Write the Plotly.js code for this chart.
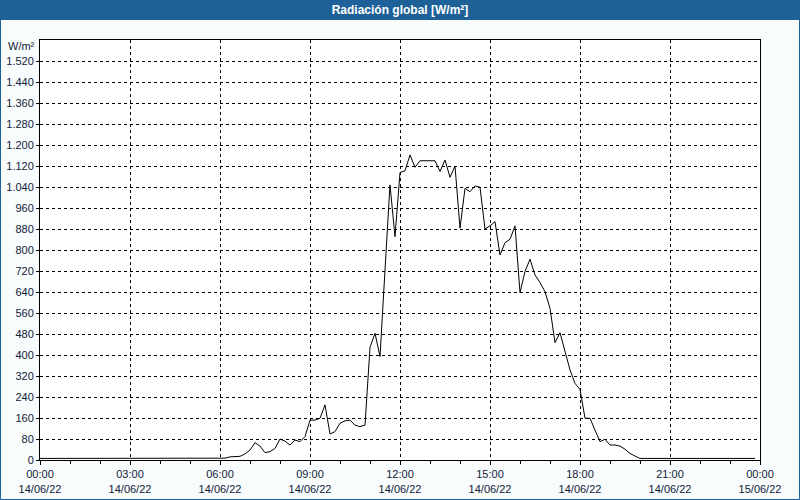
<!DOCTYPE html>
<html>
<head>
<meta charset="utf-8">
<script src="https://cdn.plot.ly/plotly-3.0.1.min.js"></script>
<style>html,body{margin:0;padding:0;background:#f8fcfc;}#chart{width:800px;height:500px;}</style>
</head>
<body>
<div id="chart"></div>
<script>
// Chart texts
const chartTitle = "Radiación global [W/m²]";
const unitLabel = "W/m²";

// Sampling: one reading every 10 minutes, starting at midnight
const startTime = "2022-06-14T00:00:00";
const stepMinutes = 10;

// Global radiation readings (W/m²), 144 samples 00:00 .. 23:50
const radiation = [
  6,6,6,6,6,6, 6,6,6,6,6,6,            // 00:00-01:50
  6,6,6,6,6,6, 6,6,6,6,6,6,            // 02:00-03:50
  6,6,6,6,6,6, 6,6,6,6,6,6,            // 04:00-05:50
  6,7,12,13,14,23, 38,66,53,28,32,44,  // 06:00-07:50
  80,72,57,76,70,89, 152,152,159,210,99,108,   // 08:00-09:50
  140,149,152,133,127,133, 429,483,394,724,1048,851, // 10:00-11:50
  1095,1102,1162,1115,1140,1140, 1140,1140,1099,1143,1077,1120, // 12:00-13:50
  883,1035,1022,1044,1039,880, 892,908,781,828,841,892,  // 14:00-15:50
  638,718,765,705,676,641, 578,447,485,413,343,292,      // 16:00-17:50
  269,159,159,114,70,79, 57,57,53,41,25,15,              // 18:00-19:50
  6,6,6,6,6,6, 6,6,6,6,6,6,            // 20:00-21:50
  6,6,6,6,6,6, 6,6,6,6,6,6             // 22:00-23:50
];

// Axis ticks
const xTickVals = ["2022-06-14 00:00","2022-06-14 03:00","2022-06-14 06:00","2022-06-14 09:00",
  "2022-06-14 12:00","2022-06-14 15:00","2022-06-14 18:00","2022-06-14 21:00","2022-06-15 00:00"];
const xTickText = ["00:00<br>14/06/22","03:00<br>14/06/22","06:00<br>14/06/22","09:00<br>14/06/22",
  "12:00<br>14/06/22","15:00<br>14/06/22","18:00<br>14/06/22","21:00<br>14/06/22","00:00<br>15/06/22"];
const yTickVals = [0,80,160,240,320,400,480,560,640,720,800,880,960,1040,1120,1200,1280,1360,1440,1520];
const yRange = [0, 1600];

// Build timestamps for samples
function pad(n){return String(n).padStart(2,"0");}
const t0 = new Date(startTime + "Z").getTime();
const times = radiation.map((_, i) => {
  const d = new Date(t0 + i * stepMinutes * 60000);
  return d.getUTCFullYear() + "-" + pad(d.getUTCMonth()+1) + "-" + pad(d.getUTCDate()) + " " +
         pad(d.getUTCHours()) + ":" + pad(d.getUTCMinutes());
});

const textColor = "#10203a";
const font = {family: "Liberation Sans, Arial, sans-serif", size: 11, color: textColor};

const trace = {
  x: times, y: radiation, type: "scatter", mode: "lines",
  line: {color: "#000000", width: 1}, hoverinfo: "x+y"
};

// plot area: x 40..760, y 40..460 in pixels
const L = 40, R = 40, T = 40, B = 40, W = 800, H = 500;
const pw = W - L - R, ph = H - T - B;
const px = v => (v - L) / pw;
const py = v => (H - B - v) / ph;

const layout = {
  width: W, height: H,
  margin: {l: L, r: R, t: T, b: B, pad: 0},
  paper_bgcolor: "#f8fcfc",
  plot_bgcolor: "#ffffff",
  font: font,
  separators: ",.",
  showlegend: false,
  title: {
    text: "<b>" + chartTitle + "</b>",
    x: 0.5, xref: "container", xanchor: "center",
    y: 1 - 10/H, yref: "container", yanchor: "middle",
    font: {family: "Liberation Sans, Arial, sans-serif", size: 12, color: "#ffffff"}
  },
  xaxis: {
    type: "date",
    range: [xTickVals[0], xTickVals[xTickVals.length-1]],
    tickmode: "array", tickvals: xTickVals, ticktext: xTickText,
    ticks: "outside", ticklen: 4, tickcolor: "#000", tickwidth: 1,
    showline: true, linecolor: "#000", linewidth: 1, mirror: true,
    showgrid: true, gridcolor: "#000", gridwidth: 1, griddash: "3px,3px",
    zeroline: false, tickangle: 0,
    minor: {dtick: 3600000, ticks: "outside", ticklen: 3, tickcolor: "#000", showgrid: false},
    tickfont: font, fixedrange: true
  },
  yaxis: {
    range: yRange,
    tickmode: "array", tickvals: yTickVals,
    tickformat: ",d", separatethousands: true,
    ticks: "outside", ticklen: 3, tickcolor: "#000", tickwidth: 1,
    showline: true, linecolor: "#000", linewidth: 1, mirror: true,
    showgrid: true, gridcolor: "#000", gridwidth: 1, griddash: "3px,3px",
    zeroline: false,
    tickfont: font, fixedrange: true
  },
  shapes: [
    {type: "rect", xref: "paper", yref: "paper", layer: "below",
     x0: px(0), x1: px(W), y0: py(20), y1: py(0),
     fillcolor: "#1d6198", line: {width: 0}},
    {type: "rect", xref: "paper", yref: "paper", layer: "above",
     x0: px(0.5), x1: px(W-0.5), y0: py(H-0.5), y1: py(0.5),
     fillcolor: "rgba(0,0,0,0)", line: {color: "#1d6198", width: 1}}
  ],
  annotations: [
    {text: unitLabel, xref: "paper", yref: "paper", x: px(37), y: py(46.5),
     xanchor: "right", yanchor: "middle", showarrow: false, font: font}
  ]
};

Plotly.newPlot("chart", [trace], layout, {displayModeBar: false, staticPlot: true});
</script>
</body>
</html>
